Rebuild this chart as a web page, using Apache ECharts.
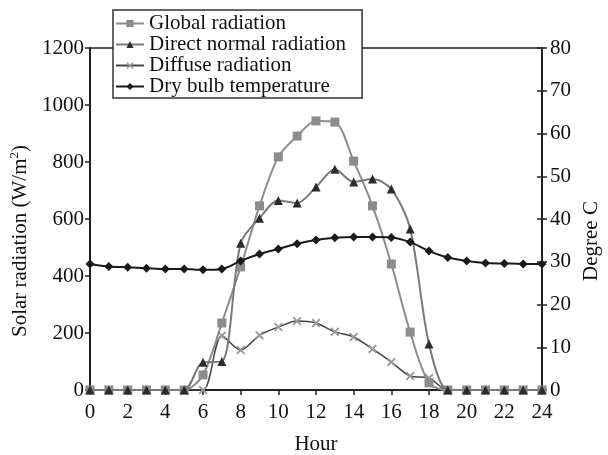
<!DOCTYPE html>
<html>
<head>
<meta charset="utf-8">
<script src="https://cdn.jsdelivr.net/npm/echarts@6/dist/echarts.min.js"></script>
<style>html,body{margin:0;padding:0;background:#fff}#c{width:608px;height:455px}</style>
</head>
<body>
<div id="c"></div>
<script>
var hours = [0,1,2,3,4,5,6,7,8,9,10,11,12,13,14,15,16,17,18,19,20,21,22,23,24];
var globalRad = [0,0,0,0,0,0,53,235,432,646,818,891,944,940,803,646,442,203,25,0,0,0,0,0,0];
var directRad = [0,0,0,0,0,0,97,100,515,603,665,656,712,775,730,740,705,565,161,0,0,0,0,0,0];
var diffuseRad = [0,0,0,0,0,0,0,190,140,192,221,242,235,204,186,144,98,49,42,0,0,0,0,0,0];
var dryBulb = [29.5,28.9,28.7,28.5,28.3,28.3,28.1,28.3,30.2,31.8,33.0,34.2,35.1,35.6,35.8,35.8,35.7,34.6,32.5,31.0,30.2,29.7,29.6,29.5,29.5];
var leftTicks = [0,200,400,600,800,1000,1200];
var rightTicks = [0,10,20,30,40,50,60,70,80];

function pairs(v){ return hours.map(function(h,i){ return [h, v[i]]; }); }
var F = 'Liberation Serif';
var FS = 21;
var crossPath = 'path://M0,1.5L1.5,0L5,3.5L8.5,0L10,1.5L6.5,5L10,8.5L8.5,10L5,6.5L1.5,10L0,8.5L3.5,5Z';
var plain = function(v){ return String(v); };

var chart = echarts.init(document.getElementById('c'), null, {renderer:'canvas'});
chart.setOption({
  backgroundColor:'#fff',
  animation:false,
  grid:{left:90,right:66,top:48,bottom:65,show:true,borderColor:'#222',borderWidth:1.5,backgroundColor:'transparent',outerBoundsMode:'none',containLabel:false},
  legend:{
    orient:'vertical', left:113, top:10,
    padding:[3,16,1,2], itemGap:0, itemWidth:28, itemHeight:9, itemTextGap:5,
    borderColor:'#333', borderWidth:1.5, backgroundColor:'#fff',
    textStyle:{fontFamily:F,fontSize:FS,color:'#111',lineHeight:21},
    data:['Global radiation','Direct normal radiation','Diffuse radiation','Dry bulb temperature']
  },
  xAxis:{
    type:'value', min:0, max:24, interval:2,
    name:'Hour', nameLocation:'middle', nameGap:44,
    nameTextStyle:{fontFamily:F,fontSize:FS,color:'#111'},
    axisLine:{lineStyle:{color:'#222',width:2}},
    axisTick:{show:true,length:5,lineStyle:{color:'#222',width:1.5}},
    axisLabel:{fontFamily:F,fontSize:FS,color:'#111',margin:12,formatter:plain},
    splitLine:{show:false}
  },
  yAxis:[{
    type:'value', min:0, max:1200, interval:200,
    axisLine:{show:true,lineStyle:{color:'#222',width:2}},
    axisTick:{show:true,length:5,lineStyle:{color:'#222',width:1.5}},
    axisLabel:{fontFamily:F,fontSize:FS,color:'#111',margin:6,formatter:plain},
    splitLine:{show:false}
  },{
    type:'value', min:0, max:80, interval:10, position:'right',
    axisLine:{show:true,lineStyle:{color:'#222',width:2}},
    axisTick:{show:true,length:5,lineStyle:{color:'#222',width:1.5}},
    axisLabel:{fontFamily:F,fontSize:FS,color:'#111',margin:8,formatter:plain},
    splitLine:{show:false}
  },{
    type:'value', min:0, max:80, interval:10, position:'right',
    axisLine:{show:false},
    axisTick:{show:true,inside:true,length:5,lineStyle:{color:'#222',width:1.5}},
    axisLabel:{show:false},
    splitLine:{show:false}
  }],
  graphic:[{
    type:'text', x:20, y:241, rotation:Math.PI/2,
    style:{text:'{a|Solar radiation (W/m}{s|2}{a|)}',textAlign:'center',textVerticalAlign:'middle',
      rich:{a:{fontFamily:F,fontSize:FS,fill:'#111'},s:{fontFamily:F,fontSize:13,fill:'#111',verticalAlign:'top',padding:[0,0,10,0]}}}
  },{
    type:'text', x:591, y:241, rotation:Math.PI/2,
    style:{text:'Degree C',textAlign:'center',textVerticalAlign:'middle',fontFamily:F,fontSize:FS,fill:'#111'}
  }],
  series:[{
    name:'Global radiation', type:'line', smooth:0.3, data:pairs(globalRad),
    symbol:'rect', symbolSize:9, lineStyle:{color:'#8c8c8c',width:2},
    itemStyle:{color:'#8c8c8c'}, z:3
  },{
    name:'Direct normal radiation', type:'line', smooth:0.3, data:pairs(directRad),
    symbol:'triangle', symbolSize:9, lineStyle:{color:'#7a7a7a',width:2},
    itemStyle:{color:'#2a2a2a'}, z:4
  },{
    name:'Diffuse radiation', type:'line', smooth:0.3, data:pairs(diffuseRad),
    symbol:crossPath, symbolSize:9, lineStyle:{color:'#444',width:1.5},
    itemStyle:{color:'#9a9a9a'}, z:2
  },{
    name:'Dry bulb temperature', type:'line', smooth:0.3, yAxisIndex:1, data:pairs(dryBulb),
    symbol:'diamond', symbolSize:9, lineStyle:{color:'#1a1a1a',width:2},
    itemStyle:{color:'#1a1a1a'}, z:5
  }]
});
</script>
</body>
</html>
